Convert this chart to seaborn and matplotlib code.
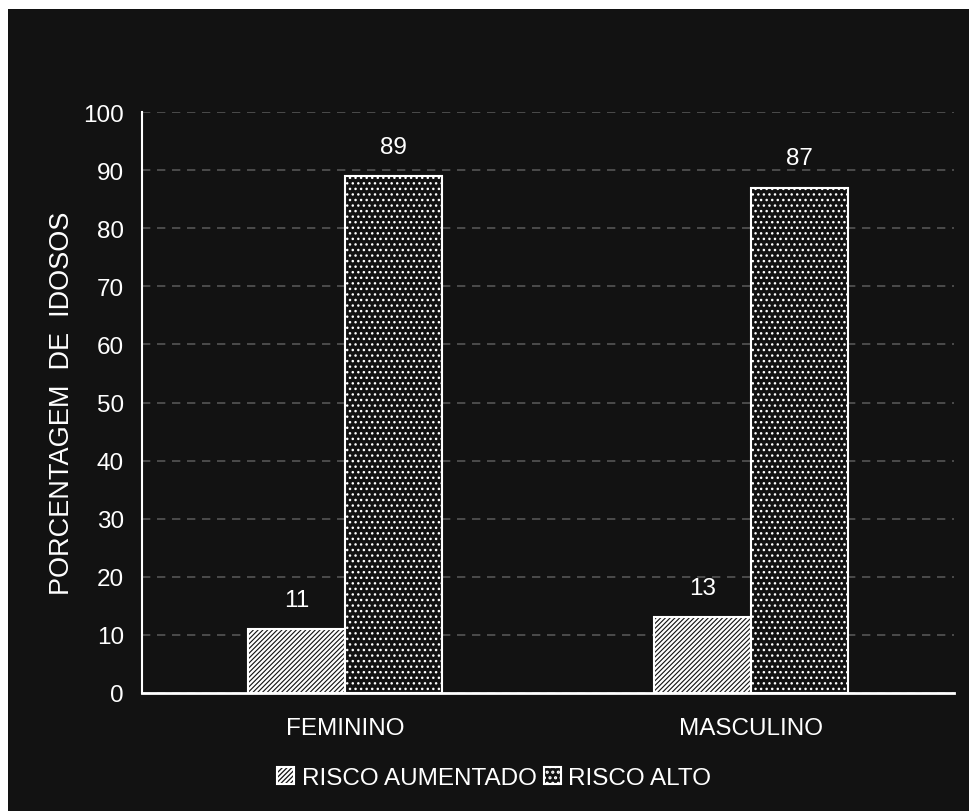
import matplotlib
matplotlib.use("Agg")
import matplotlib.pyplot as plt
from matplotlib.patches import Rectangle
import seaborn as sns
import pandas as pd

# Data
categorias = ["FEMININO", "MASCULINO"]
series = ["RISCO AUMENTADO", "RISCO ALTO"]
risco_aumentado = [11, 13]
risco_alto = [89, 87]
yticks = [0, 10, 20, 30, 40, 50, 60, 70, 80, 90, 100]

df = pd.DataFrame({
    "sexo": categorias * 2,
    "risco": [series[0]] * 2 + [series[1]] * 2,
    "pct": risco_aumentado + risco_alto,
})

BG = "#121212"
FG = "white"

sns.set_theme(style="dark")
plt.rcParams["font.family"] = ["Liberation Sans", "DejaVu Sans"]
plt.rcParams["hatch.linewidth"] = 1.5
plt.rcParams["hatch.color"] = FG

fig = plt.figure(figsize=(9.69, 8.12), dpi=100, facecolor="white")
# dark panel behind the chart
bg_rect = Rectangle((8 / 969, 0), 1 - 8 / 969, 1 - 10 / 812,
                    transform=fig.transFigure, facecolor=BG,
                    edgecolor="none", zorder=-10)
fig.add_artist(bg_rect)

ax = fig.add_axes([142 / 969, 1 - 694 / 812, (954 - 142) / 969, (694 - 113) / 812])
ax.set_zorder(1)
ax.set_facecolor(BG)

sns.barplot(data=df, x="sexo", y="pct", hue="risco", order=categorias,
            hue_order=series, width=0.48, ax=ax,
            palette=[BG, BG], edgecolor=FG, linewidth=1.5, saturation=1,
            legend=True, zorder=3)

hatches = ["///////", "..."]
hatch_lw = [1.6, 1.0]


def style_patch(p, h, lw):
    p.set_hatch(h)
    p.set_edgecolor(FG)
    p.set_facecolor(BG)
    if hasattr(p, "set_hatch_linewidth"):
        p.set_hatch_linewidth(lw)


for cont, h, lw in zip(ax.containers, hatches, hatch_lw):
    for bar in cont:
        style_patch(bar, h, lw)
    ax.bar_label(cont, labels=[f"{v:g}" for v in cont.datavalues],
                 padding=13, color=FG, fontsize=17.5)

ax.set_xlim(-0.5, 1.5)
ax.set_ylim(0, 100)
ax.set_yticks(yticks)
ax.set_yticklabels([str(t) for t in yticks])
ax.tick_params(axis="y", colors=FG, labelsize=17.5, length=0, pad=13)
ax.tick_params(axis="x", colors=FG, labelsize=17.5, length=0, pad=17)
ax.set_xlabel("")
ax.set_ylabel("PORCENTAGEM  DE  IDOSOS", color=FG, fontsize=19.5, labelpad=6)

ax.yaxis.grid(True, linestyle=(0, (5, 4)), color="#555555", linewidth=1.2, zorder=0)
ax.xaxis.grid(False)
ax.set_axisbelow(True)

for side in ["top", "right"]:
    ax.spines[side].set_visible(False)
ax.spines["left"].set_color(FG)
ax.spines["left"].set_linewidth(1.5)
ax.spines["bottom"].set_color(FG)
ax.spines["bottom"].set_linewidth(2)

handles, labels = ax.get_legend_handles_labels()
ax.get_legend().remove()
for hd, h, lw in zip(handles, hatches, hatch_lw):
    style_patch(hd, h, lw)
leg = fig.legend(handles, labels, loc="center", bbox_to_anchor=(0.51, 0.041),
                 ncol=2, frameon=False, fontsize=17.5, handlelength=0.7,
                 handleheight=0.7, handletextpad=0.3, columnspacing=0.3,
                 labelcolor=FG)

fig.savefig("out.png", dpi=100, facecolor=fig.get_facecolor())
